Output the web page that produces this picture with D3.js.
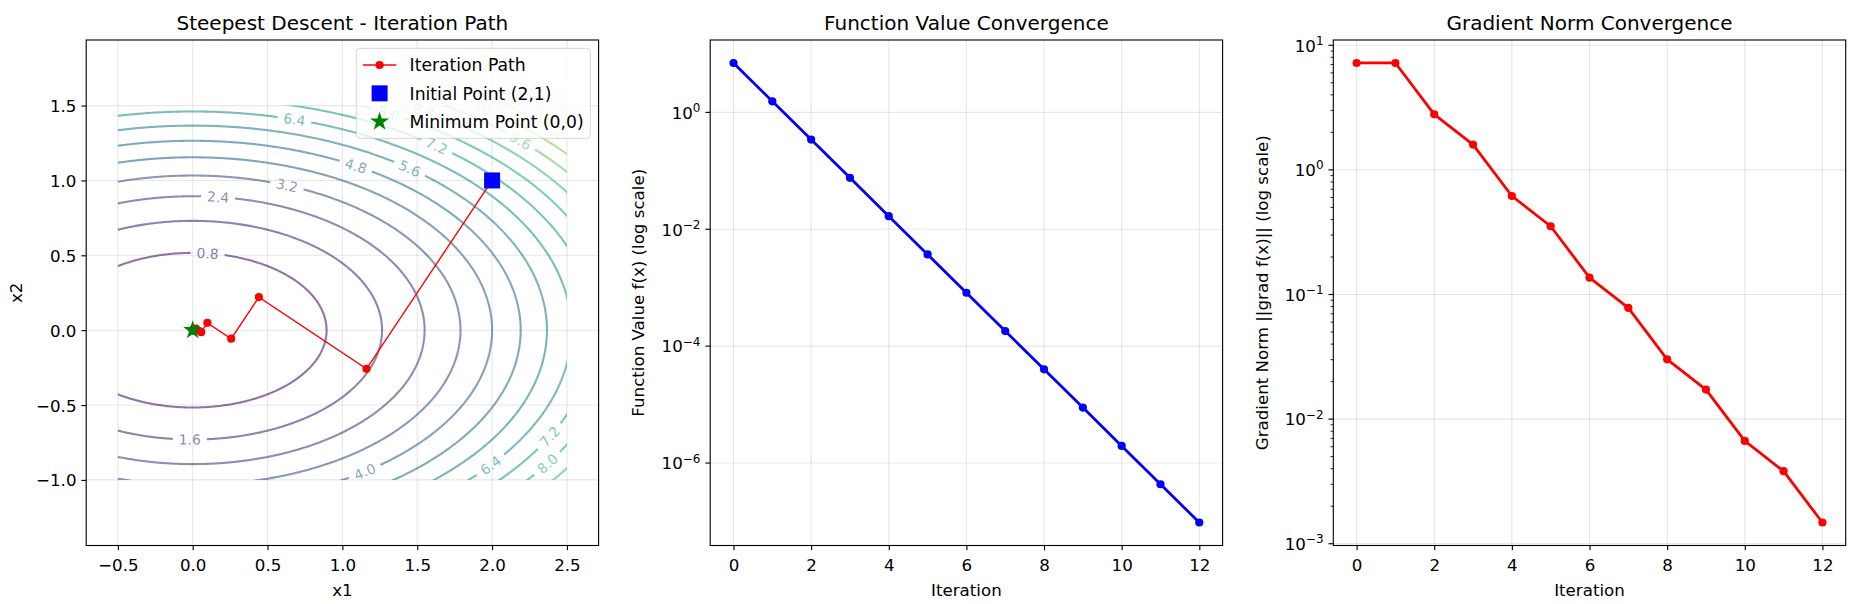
<!DOCTYPE html>
<html><head><meta charset="utf-8">
<script src="https://cdn.jsdelivr.net/npm/d3@7"></script>
<style>
html,body{margin:0;padding:0;background:#fff;}
svg{display:block;}
text{font-family:"DejaVu Sans",sans-serif;}
</style></head>
<body>
<svg id="chart" width="1854" height="604" xmlns="http://www.w3.org/2000/svg"></svg>
<script>
// ---------------- data ----------------
const iterations = [0,1,2,3,4,5,6,7,8,9,10,11,12];
const functionValues = [7.0, 1.548, 0.3425, 0.0758, 0.01676, 0.003707, 8.20e-4, 1.814e-4, 4.01e-5, 8.88e-6, 1.964e-6, 4.34e-7, 9.6e-8];
const gradientNorms = [7.21, 7.21, 2.79, 1.595, 0.6175, 0.353, 0.1366, 0.0781, 0.0302, 0.01727, 0.00668, 0.00382, 0.00148];
const pathX1 = [2.0, 1.161, 0.442, 0.257, 0.098, 0.057, 0.022, 0.013, 0.005, 0.003, 0.001, 0.0006, 0.0002];
const pathX2 = [1.0, -0.258, 0.221, -0.057, 0.049, -0.013, 0.011, -0.003, 0.002, -0.0006, 0.0005, -0.0001, 0.0001];
const initialPoint = [2, 1];
const minimumPoint = [0, 0];
const contourLevels = [0.8,1.6,2.4,3.2,4.0,4.8,5.6,6.4,7.2,8.0,8.8,9.6,10.4,11.2,12.0,12.8];
const surfaceCoeffs = [1, 3];          // contour surface f = 1*x1^2 + 3*x2^2
const gridX1 = [-0.5, 2.5];
const gridX2 = [-1.0, 1.5];
// approximate positions of the inline contour labels: [level, x1, x2]
const contourLabelAnchors = [
  [0.8,0.10,0.50],[1.6,-0.02,-0.73],[2.4,0.17,0.86],[3.2,0.62,0.94],[4.0,1.16,-0.96],
  [4.8,1.08,1.08],[5.6,1.44,1.07],[6.4,0.68,1.39],[6.4,2.0,-0.92],[7.2,1.62,1.22],
  [7.2,2.40,-0.72],[8.0,1.30,1.43],[8.0,2.38,-0.91],[8.8,1.54,1.46],[9.6,2.18,1.25],
  [10.4,1.93,1.49],[11.2,2.38,1.35]
];
const x1Lim = [-0.7115, 2.7115];
const x2Lim = [-1.438, 1.938];
const x1Ticks = [-0.5,0,0.5,1,1.5,2,2.5];
const x2Ticks = [-1,-0.5,0,0.5,1,1.5];
const iterTicks = [0,2,4,6,8,10,12];
const fTickExps = [0,-2,-4,-6];
const gTickExps = [1,0,-1,-2,-3];
const titles = ["Steepest Descent - Iteration Path","Function Value Convergence","Gradient Norm Convergence"];
const xLabels = ["x1","Iteration","Iteration"];
const yLabels = ["x2","Function Value f(x) (log scale)","Gradient Norm ||grad f(x)|| (log scale)"];
const legendLabels = ["Iteration Path","Initial Point (2,1)","Minimum Point (0,0)"];

// ---------------- layout ----------------
const W = 1854, H = 604;
const PT = 100/72;
const FS = 12*PT, TFS = 14.4*PT, CFS = 10*PT, LFS = 17.2;
const TOP = 40, BOT = 545.5;
const boxes = [[86.2,598.6],[710.2,1222.6],[1333.3,1845.7]];
const TICK = 3.5*PT, PAD = 3.5*PT;
const svg = d3.select('#chart');
const defs = svg.append('defs');
const FONT = '"DejaVu Sans",sans-serif';

const sup = e => (e < 0 ? '\u2212' + (-e) : '' + e);

function grid(g, xs, ys, xScale, yScale, x0, x1){
  const gg = g.append('g');
  xs.forEach(v => gg.append('line').attr('x1',xScale(v)).attr('x2',xScale(v)).attr('y1',TOP).attr('y2',BOT));
  ys.forEach(v => gg.append('line').attr('x1',x0).attr('x2',x1).attr('y1',yScale(v)).attr('y2',yScale(v)));
  gg.selectAll('line').attr('stroke','#b0b0b0').attr('stroke-opacity',0.3).attr('stroke-width',0.8*PT);
}
function xAxis(g, scale, ticks, fmt){
  const ax = g.append('g').attr('transform',`translate(0,${BOT})`)
    .call(d3.axisBottom(scale).tickValues(ticks).tickSize(TICK).tickPadding(PAD).tickFormat(fmt));
  ax.select('.domain').remove();
  ax.attr('font-size',null).attr('font-family',null);
  ax.selectAll('line').attr('stroke','#000').attr('stroke-width',0.8*PT);
  ax.selectAll('text').attr('fill','#000').attr('font-size',FS).attr('font-family',FONT).attr('dy',null).attr('y',25.5);
}
function yAxisLinear(g, scale, ticks, fmt, x0){
  const ax = g.append('g').attr('transform',`translate(${x0},0)`)
    .call(d3.axisLeft(scale).tickValues(ticks).tickSize(TICK).tickPadding(PAD).tickFormat(fmt));
  ax.select('.domain').remove();
  ax.attr('font-size',null).attr('font-family',null);
  ax.selectAll('line').attr('stroke','#000').attr('stroke-width',0.8*PT);
  ax.selectAll('text').attr('fill','#000').attr('font-size',FS).attr('font-family',FONT).attr('dy',null).attr('y',6);
}
function yAxisLog(g, scale, exps, x0, minor){
  const ax = g.append('g');
  if (minor){
    const [lo, hi] = scale.domain();
    for (let e = Math.floor(Math.log10(lo)); e <= Math.ceil(Math.log10(hi)); e++){
      for (let s = 2; s <= 9; s++){
        const v = s*Math.pow(10,e);
        if (v < lo || v > hi) continue;
        ax.append('line').attr('x1',x0-2*PT).attr('x2',x0).attr('y1',scale(v)).attr('y2',scale(v))
          .attr('stroke','#000').attr('stroke-width',0.6*PT);
      }
    }
  }
  exps.forEach(e => {
    const y = scale(Math.pow(10,e));
    ax.append('line').attr('x1',x0-TICK).attr('x2',x0).attr('y1',y).attr('y2',y).attr('stroke','#000').attr('stroke-width',0.8*PT);
    const t = ax.append('text').attr('x',x0-TICK-PAD).attr('y',y+6.3).attr('text-anchor','end')
      .attr('font-size',FS).attr('fill','#000');
    t.append('tspan').text('10');
    t.append('tspan').attr('dy',-6.8).attr('font-size',12).text(sup(e));
  });
}
function frame(g, x0, x1){
  g.append('rect').attr('x',x0).attr('y',TOP).attr('width',x1-x0).attr('height',BOT-TOP)
    .attr('fill','none').attr('stroke','#000').attr('stroke-width',0.8*PT);
}
function labels(g, i){
  const [x0,x1] = boxes[i];
  const cx = (x0+x1)/2;
  g.append('text').attr('x',cx).attr('y',29.5).attr('text-anchor','middle').attr('font-size',TFS).attr('fill','#000').text(titles[i]);
  g.append('text').attr('x',cx).attr('y',596).attr('text-anchor','middle').attr('font-size',FS).attr('fill','#000').text(xLabels[i]);
  const ylx = [16, 638.6, 1262.7][i];
  g.append('text').attr('transform',`translate(${ylx},${(TOP+BOT)/2}) rotate(-90)`).attr('text-anchor','middle')
    .attr('dominant-baseline','central').attr('font-size',FS).attr('fill','#000').text(yLabels[i]);
}
function starPath(R){
  const r = R*0.381966, pts = [];
  for (let k = 0; k < 10; k++){
    const a = -Math.PI/2 + k*Math.PI/5, rr = k%2 ? r : R;
    pts.push([rr*Math.cos(a), rr*Math.sin(a)]);
  }
  return 'M' + pts.map(p => p[0].toFixed(2)+','+p[1].toFixed(2)).join('L') + 'Z';
}

// ================= Panel 1: contour + path =================
{
  const [bx0, bx1] = boxes[0];
  const xS = d3.scaleLinear(x1Lim, [bx0, bx1]);
  const yS = d3.scaleLinear(x2Lim, [BOT, TOP]);
  const g = svg.append('g');
  grid(g, x1Ticks, x2Ticks, xS, yS, bx0, bx1);

  // contour field on a padded grid, clipped to the plotted grid domain
  const step = 0.01, padG = 0.1;
  const gx0 = gridX1[0]-padG, gy0 = gridX2[0]-padG;
  const nx = Math.round((gridX1[1]-gridX1[0]+2*padG)/step)+1;
  const ny = Math.round((gridX2[1]-gridX2[0]+2*padG)/step)+1;
  const vals = new Float64Array(nx*ny);
  for (let j = 0; j < ny; j++) for (let i = 0; i < nx; i++){
    const a = gx0 + i*step, b = gy0 + j*step;
    vals[j*nx+i] = surfaceCoeffs[0]*a*a + surfaceCoeffs[1]*b*b;
  }
  const cs = d3.contours().size([nx,ny]).thresholds(contourLevels)(vals);
  const vmax = d3.max(contourLevels);
  const color = L => d3.interpolateViridis(L/vmax);
  const toPx = p => [xS(gx0 + (p[0]-0.5)*step), yS(gy0 + (p[1]-0.5)*step)];

  defs.append('clipPath').attr('id','gridclip').append('rect')
    .attr('x',xS(gridX1[0])).attr('y',yS(gridX2[1]))
    .attr('width',xS(gridX1[1])-xS(gridX1[0])).attr('height',yS(gridX2[0])-yS(gridX2[1]));
  const mask = defs.append('mask').attr('id','cmask').attr('maskUnits','userSpaceOnUse')
    .attr('x',0).attr('y',0).attr('width',W).attr('height',H);
  mask.append('rect').attr('width',W).attr('height',H).attr('fill','#fff');

  const gcOuter = g.append('g').attr('mask','url(#cmask)');
  const gc = gcOuter.append('g').attr('clip-path','url(#gridclip)');
  const ringsByLevel = new Map();
  cs.forEach(c => {
    const rings = [];
    c.coordinates.forEach(poly => poly.forEach(ring => rings.push(ring.map(toPx))));
    ringsByLevel.set(c.value, rings);
    const d = rings.map(r => 'M' + r.map(p => p[0].toFixed(2)+','+p[1].toFixed(2)).join('L') + 'Z').join('');
    gc.append('path').attr('d',d).attr('fill','none').attr('stroke',color(c.value))
      .attr('stroke-opacity',0.6).attr('stroke-width',1.5*PT);
  });

  // inline contour labels
  const xa = xS(gridX1[0]), xb = xS(gridX1[1]), ya = yS(gridX2[1]), yb = yS(gridX2[0]);
  const gl = g.append('g');
  contourLabelAnchors.forEach(([L, ax1, ax2]) => {
    const rings = ringsByLevel.get(L);
    if (!rings) return;
    const tx = xS(ax1), ty = yS(ax2);
    let best = null, bd = Infinity;
    rings.forEach(r => r.forEach((p, k) => {
      if (p[0] < xa+4 || p[0] > xb-4 || p[1] < ya+4 || p[1] > yb-4) return;
      const d = (p[0]-tx)**2 + (p[1]-ty)**2;
      if (d < bd){ bd = d; best = [r, k]; }
    }));
    if (!best) return;
    const [r, k] = best, n = r.length - 1;
    const p = r[k], pa = r[(k-3+n)%n], pb = r[(k+3)%n];
    let ang = Math.atan2(pb[1]-pa[1], pb[0]-pa[0])*180/Math.PI;
    if (ang > 90) ang -= 180; if (ang < -90) ang += 180;
    const t = gl.append('text').attr('transform',`translate(${p[0]},${p[1]}) rotate(${ang})`)
      .attr('text-anchor','middle').attr('dominant-baseline','central').attr('font-size',CFS)
      .attr('fill',color(L)).attr('fill-opacity',0.6).text(L.toFixed(1));
    const w = t.node().getComputedTextLength() + 12;
    mask.append('rect').attr('x',-w/2).attr('y',-8).attr('width',w).attr('height',16)
      .attr('transform',`translate(${p[0]},${p[1]}) rotate(${ang})`).attr('fill','#000');
  });

  // iteration path
  const idx = d3.range(pathX1.length);
  g.append('path').attr('d', d3.line().x(i => xS(pathX1[i])).y(i => yS(pathX2[i]))(idx))
    .attr('fill','none').attr('stroke','#ff0000').attr('stroke-width',1*PT);
  g.selectAll('.pm').data(idx).join('circle').attr('cx',i => xS(pathX1[i])).attr('cy',i => yS(pathX2[i]))
    .attr('r',4.1).attr('fill','#ff0000');
  const sq = 16, starR = 10;
  g.append('rect').attr('x',xS(initialPoint[0])-sq/2).attr('y',yS(initialPoint[1])-sq/2).attr('width',sq).attr('height',sq).attr('fill','#0000ff');
  g.append('path').attr('d',starPath(starR)).attr('transform',`translate(${xS(minimumPoint[0])},${yS(minimumPoint[1])})`).attr('fill','#008000');

  xAxis(g, xS, x1Ticks, d3.format('.1f'));
  yAxisLinear(g, yS, x2Ticks, d3.format('.1f'), bx0);
  frame(g, bx0, bx1);

  // legend
  const lg = g.append('g');
  const lpad = 0.4*FS, hlen = 2*FS, tpad = 0.8*FS, rowH = 20, lsp = 0.5*FS;
  const right = bx1 - 0.5*FS, topL = TOP + 0.5*FS;
  const bg = lg.append('rect');
  const texts = legendLabels.map((s,i) => lg.append('text').attr('font-size',LFS).attr('fill','#000').text(s));
  const tw = d3.max(texts, t => t.node().getComputedTextLength());
  const lw = lpad + hlen + tpad + tw + lpad;
  const lh = 2*lpad + 3*rowH + 2*lsp;
  const left = right - lw;
  bg.attr('x',left).attr('y',topL).attr('width',lw).attr('height',lh).attr('rx',3.5)
    .attr('fill','#fff').attr('fill-opacity',0.8).attr('stroke','#cccccc').attr('stroke-opacity',0.8).attr('stroke-width',1);
  const hx = left + lpad, hc = hx + hlen/2;
  texts.forEach((t,i) => {
    const cy = topL + lpad + rowH/2 + i*(rowH+lsp);
    t.attr('x', hx + hlen + tpad).attr('y', cy + 6.2);
    if (i === 0){
      lg.append('line').attr('x1',hx).attr('x2',hx+hlen).attr('y1',cy).attr('y2',cy).attr('stroke','#ff0000').attr('stroke-width',1*PT);
      lg.append('circle').attr('cx',hc).attr('cy',cy).attr('r',4.1).attr('fill','#ff0000');
    } else if (i === 1){
      lg.append('rect').attr('x',hc-sq/2).attr('y',cy-sq/2).attr('width',sq).attr('height',sq).attr('fill','#0000ff');
    } else {
      lg.append('path').attr('d',starPath(starR)).attr('transform',`translate(${hc},${cy})`).attr('fill','#008000');
    }
  });
  labels(g, 0);
}

// ================= Panels 2 & 3: log convergence =================
function logPanel(i, values, colorC, exps, minor){
  const [bx0, bx1] = boxes[i];
  const xr = d3.extent(iterations), xm = (xr[1]-xr[0])*0.05;
  const xS = d3.scaleLinear([xr[0]-xm, xr[1]+xm], [bx0, bx1]);
  const le = d3.extent(values, v => Math.log10(v)), lm = (le[1]-le[0])*0.05;
  const yS = d3.scaleLog([Math.pow(10,le[0]-lm), Math.pow(10,le[1]+lm)], [BOT, TOP]);
  const g = svg.append('g');
  grid(g, iterTicks, exps.map(e => Math.pow(10,e)), xS, yS, bx0, bx1);
  g.append('path').attr('d', d3.line().x((d,k) => xS(iterations[k])).y(d => yS(d))(values))
    .attr('fill','none').attr('stroke',colorC).attr('stroke-width',2*PT).attr('stroke-linejoin','round');
  g.selectAll('.m').data(values).join('circle').attr('cx',(d,k) => xS(iterations[k])).attr('cy',d => yS(d))
    .attr('r',4.1).attr('fill',colorC);
  xAxis(g, xS, iterTicks, d3.format('d'));
  yAxisLog(g, yS, exps, bx0, minor);
  frame(g, bx0, bx1);
  labels(g, i);
}
logPanel(1, functionValues, '#0000ff', fTickExps, false);
logPanel(2, gradientNorms, '#ff0000', gTickExps, true);
</script>
</body></html>
